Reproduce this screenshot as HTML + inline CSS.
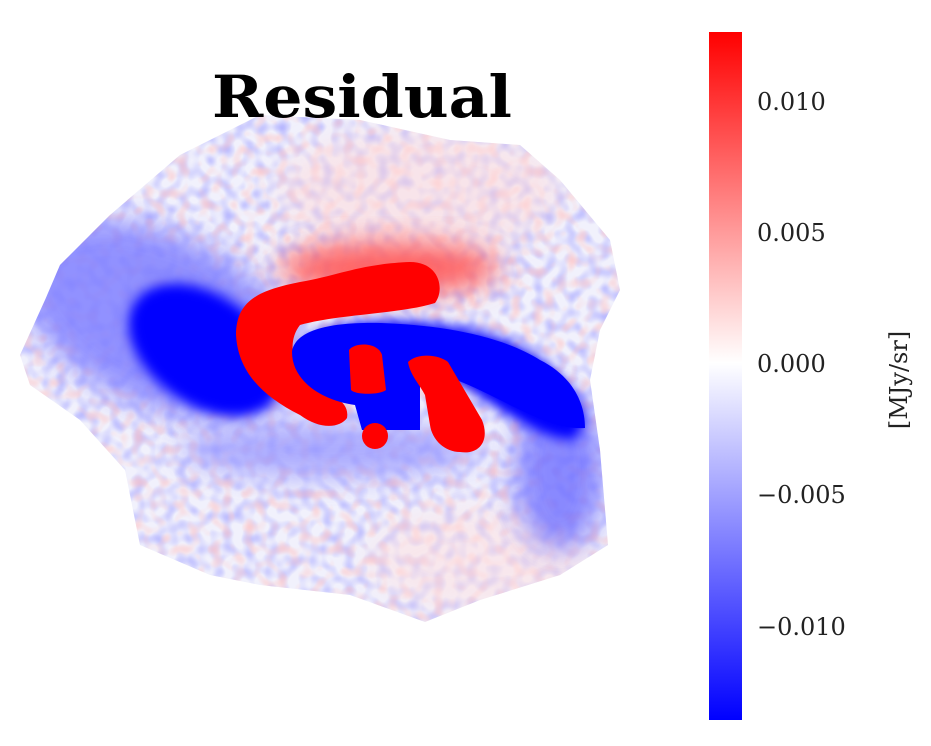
<!DOCTYPE html>
<html><head><meta charset="utf-8"><style>
html,body{margin:0;padding:0;background:#fff;}
body{width:931px;height:742px;overflow:hidden;position:relative;font-family:"DejaVu Serif","Liberation Serif",serif;}
</style></head><body>
<svg width="931" height="742" viewBox="0 0 931 742" xmlns="http://www.w3.org/2000/svg">
<defs>
<filter id="b6" x="-50%" y="-50%" width="200%" height="200%"><feGaussianBlur stdDeviation="14"/></filter>
<filter id="b3" x="-50%" y="-50%" width="200%" height="200%"><feGaussianBlur stdDeviation="6"/></filter>
<filter id="nb"><feTurbulence type="fractalNoise" baseFrequency="0.09" numOctaves="1" seed="3"/><feColorMatrix type="matrix" values="0 0 0 0 0.45  0 0 0 0 0.45  0 0 0 0 1  0 0 0 2.2 -0.9"/></filter>
<filter id="nr"><feTurbulence type="fractalNoise" baseFrequency="0.09" numOctaves="1" seed="11"/><feColorMatrix type="matrix" values="0 0 0 0 1  0 0 0 0 0.55  0 0 0 0 0.55  0 0 0 2.0 -0.95"/></filter>
<clipPath id="blob"><path d="M20,355 L45,300 L60,265 L110,215 L180,155 L260,115 L360,120 L450,140 L520,145 L560,180 L610,240 L620,290 L600,330 L590,380 L600,450 L608,545 L560,575 L480,600 L425,622 L350,595 L260,585 L210,575 L140,545 L125,470 L80,420 L30,385 Z"/></clipPath>
<linearGradient id="cb" x1="0" y1="0" x2="0" y2="1">
<stop offset="0" stop-color="#ff0000"/><stop offset="0.481" stop-color="#ffffff"/><stop offset="1" stop-color="#0000ff"/>
</linearGradient>
</defs>
<g clip-path="url(#blob)">
<rect x="0" y="100" width="640" height="540" fill="#f1f1fc"/>
<rect x="0" y="100" width="640" height="540" filter="url(#nb)"/>
<rect x="0" y="100" width="640" height="540" filter="url(#nr)"/>
<ellipse cx="420" cy="190" rx="140" ry="60" fill="#ffd8d8" opacity="0.5" filter="url(#b6)"/>
<ellipse cx="480" cy="560" rx="110" ry="50" fill="#ffdede" opacity="0.5" filter="url(#b6)"/>
<ellipse cx="160" cy="320" rx="150" ry="85" transform="rotate(25 160 320)" fill="#8080ff" opacity="0.85" filter="url(#b6)"/>
<ellipse cx="330" cy="450" rx="150" ry="28" fill="#9a9aff" opacity="0.8" filter="url(#b6)"/>
<ellipse cx="560" cy="470" rx="45" ry="80" fill="#7070ff" opacity="0.8" filter="url(#b6)"/>
<ellipse cx="205" cy="350" rx="85" ry="55" transform="rotate(35 205 350)" fill="#0000ff" filter="url(#b3)"/>
<ellipse cx="390" cy="268" rx="110" ry="26" fill="#ff6060" filter="url(#b6)"/>
<path d="M300,345 C330,315 420,315 490,335 C540,350 570,380 585,420 L575,440 C540,440 500,410 470,390 L440,370 Z" fill="#0000ff" filter="url(#b3)"/>
</g>
<path d="M236,335 C236,300 260,290 300,282 C340,275 360,264 410,262 C440,262 445,290 435,303 C400,314 340,314 300,325 C288,340 290,365 310,385 C330,395 350,400 347,418 C340,428 320,430 300,415 C260,395 238,370 236,335Z" fill="#ff0000"/>
<path d="M292,352 C295,330 330,322 380,323 C440,325 500,335 540,360 C570,375 585,400 585,428 C560,430 530,415 500,400 C470,385 440,370 420,375 L420,430 L362,430 L355,405 C320,400 292,380 292,352Z" fill="#0000ff"/>
<path d="M349,350 C355,342 378,342 382,355 L386,390 C380,395 355,395 351,390 Z" fill="#ff0000"/>
<path d="M408,362 C418,352 440,355 448,362 L482,420 C490,440 480,455 460,452 C445,452 432,440 430,425 L425,395 C420,385 410,375 408,362Z" fill="#ff0000"/>
<circle cx="375" cy="436" r="13" fill="#ff0000"/>
<text x="362" y="117" text-anchor="middle" font-family="DejaVu Serif, Liberation Serif, serif" font-weight="bold" font-size="58" textLength="300" lengthAdjust="spacingAndGlyphs">Residual</text>
<rect x="709" y="32" width="33" height="688" fill="url(#cb)"/>
<g font-size="24" fill="#222" font-family="DejaVu Serif, Liberation Serif, serif">
<text x="757" y="110">0.010</text>
<text x="757" y="241">0.005</text>
<text x="757" y="372">0.000</text>
<text x="757" y="503">−0.005</text>
<text x="757" y="635">−0.010</text>
<text transform="translate(907 380) rotate(-90)" text-anchor="middle">[MJy/sr]</text>
</g>
</svg>
</body></html>
